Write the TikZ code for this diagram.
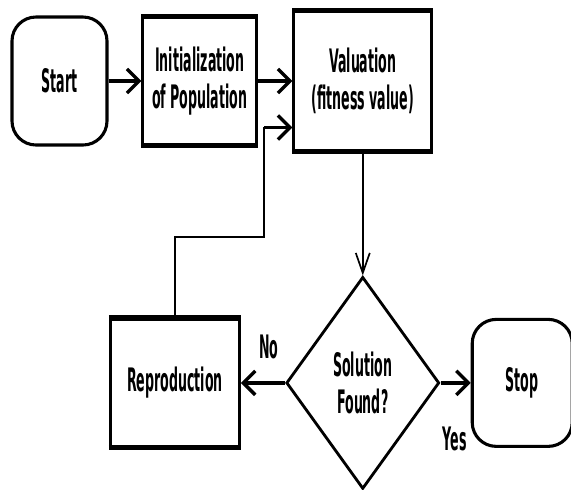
\documentclass[tikz,border=0pt]{standalone}
\usepackage{fontspec}
\newfontfamily\flowfont{DejaVu Sans}[FakeStretch=0.39]
\usetikzlibrary{positioning, calc, arrows.meta, shapes.geometric}

\begin{document}
\begin{tikzpicture}
    [termnode/.style={rectangle, rounded corners=0.6cm, draw=black, line width=2.2pt, align=center},
    boxnode/.style={rectangle, draw=black, line width=2.1pt, align=center},
    decisionnode/.style={diamond, draw=black, line width=2pt, align=center, minimum width=3.825cm, minimum height=5.3cm, inner sep=0pt},
    flow/.style={line width=2.4pt, -{Straight Barb[length=3mm, width=6mm]}},
    thinline/.style={line width=1.2pt},
    thinflow/.style={line width=1.2pt, -{Straight Barb[length=5mm, width=3.5mm]}},
    lbl/.style={inner sep=0pt},
    font=\flowfont\bfseries\fontsize{23}{26}\selectfont]

    \useasboundingbox (0,0) rectangle (14.275,-12.225);

    %Nodes
    \node[termnode, minimum width=2.375cm, minimum height=3.2cm](start) at (1.4875,-2.025){Start};
    \node[boxnode, minimum width=2.85cm, minimum height=3.175cm](init)[right=0.82cm of start]{Initialization\\of Population};
    \node[boxnode, minimum width=3.45cm, minimum height=3.45cm](val)[right=0.85cm of init]{Valuation\\(fitness value)};

    \node[decisionnode](sol)[below=3.1cm of val]{Solution\\Found?};
    \node[boxnode, minimum width=3.225cm, minimum height=3.175cm](repro)[left=1.1cm of sol]{Reproduction};
    \node[termnode, minimum width=2.5cm, minimum height=3.175cm](stop)[right=0.75cm of sol]{Stop};

    % heavier top and bottom edges
    \foreach \n in {init,val,repro}{
        \draw[line width=3.5pt] (\n.north west) -- (\n.north east);
        \draw[line width=3.5pt] (\n.south west) -- (\n.south east);
    }

    %Lines
    \draw[flow](start)--(init);
    \draw[flow](init)--(val);
    \draw[thinflow](val)--(sol);
    \draw[flow](sol)--(repro);
    \draw[flow](sol)--(stop);

    \coordinate (loopin) at ($(val.south west)+(-0.7cm,0.6cm)$);
    \draw[thinline](repro.north)--++(0,2.025)-|(loopin);
    \draw[flow](loopin)--(val.west |- loopin);

    %Labels
    \node[lbl](nolabel)[above left=0.6cm and 0.15cm of sol.west]{No};
    \node[lbl](yeslabel)[below right=1.1cm and 0.05cm of sol.east]{Yes};

\end{tikzpicture}
\end{document}
